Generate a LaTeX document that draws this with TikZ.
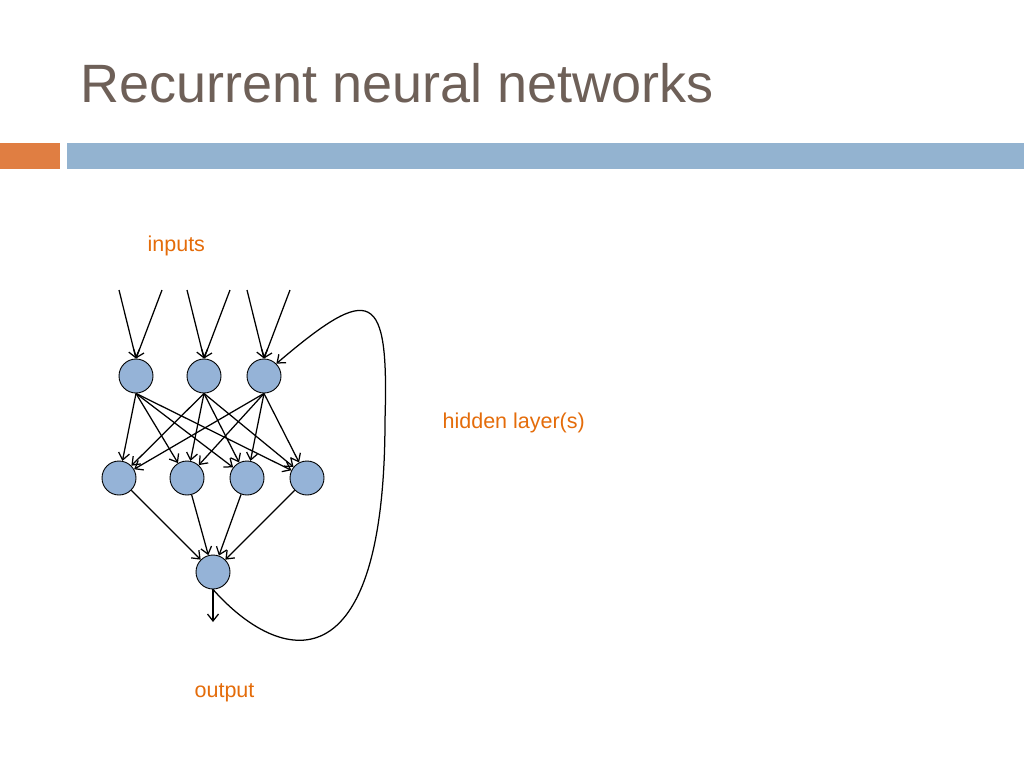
\documentclass[tikz,border=0pt]{standalone}
\usepackage{fontspec}
\setmainfont{Liberation Sans}
\usetikzlibrary{arrows.meta}
\definecolor{titlegray}{RGB}{110,96,88}
\definecolor{barorange}{RGB}{224,126,66}
\definecolor{barblue}{RGB}{147,179,208}
\definecolor{unitblue}{RGB}{149,179,215}
\definecolor{labelorange}{RGB}{228,108,10}
\begin{document}
\begin{tikzpicture}[x=1pt, y=-1pt, ->, >={Straight Barb[length=7pt,width=11pt]}, line width=1.25pt]
\tikzstyle{unit}=[circle, draw=black, fill=unitblue, line width=0.9pt, minimum size=34pt, inner sep=0pt]
\tikzstyle{caption}=[text=labelorange, font=\fontsize{21.5}{24}\selectfont, anchor=base west, inner sep=0pt]
\useasboundingbox (0,0) rectangle (1024,768);
% header
\node[text=titlegray, font=\fontsize{54}{60}\selectfont, anchor=base west, inner sep=0pt] (title) at (80,102) {Recurrent neural networks};
\fill[barorange] (0,143) rectangle (60,169);
\fill[barblue] (67,143) rectangle (1024,169);
% units
\node[unit] (in1) at (136,376) {};
\node[unit] (in2) at (204,376) {};
\node[unit] (in3) at (264,376) {};
\node[unit] (hid1) at (119,478) {};
\node[unit] (hid2) at (187,478) {};
\node[unit] (hid3) at (247,478) {};
\node[unit] (hid4) at (307,478) {};
\node[unit] (out) at (213,572) {};
% free ends
\coordinate (a1) at (119,290);
\coordinate (b1) at (162,290);
\coordinate (a2) at (187,290);
\coordinate (b2) at (230,290);
\coordinate (a3) at (247,290);
\coordinate (b3) at (290,290);
\coordinate (sink) at (213,622);
% labels
\node[caption] (inputs) at (147,251) {inputs};
\node[caption] (hidden) at (442,428) {hidden layer(s)};
\node[caption] (output) at (194,697) {output};
% connections
\foreach \i in {1,2,3} {
  \draw (a\i) -- (in\i.north);
  \draw (b\i) -- (in\i.north);
  \foreach \j in {1,2,3,4}
    \draw (in\i.south) -- (hid\j);
}
\foreach \j in {1,2,3,4}
  \draw (hid\j) -- (out);
\draw (out.south) -- (sink);
% recurrence
\draw (out.south) .. controls (280,665) and (385,690) .. (385,420)
  .. controls (389,290) and (372,282) .. (in3.north east);
\end{tikzpicture}
\end{document}
